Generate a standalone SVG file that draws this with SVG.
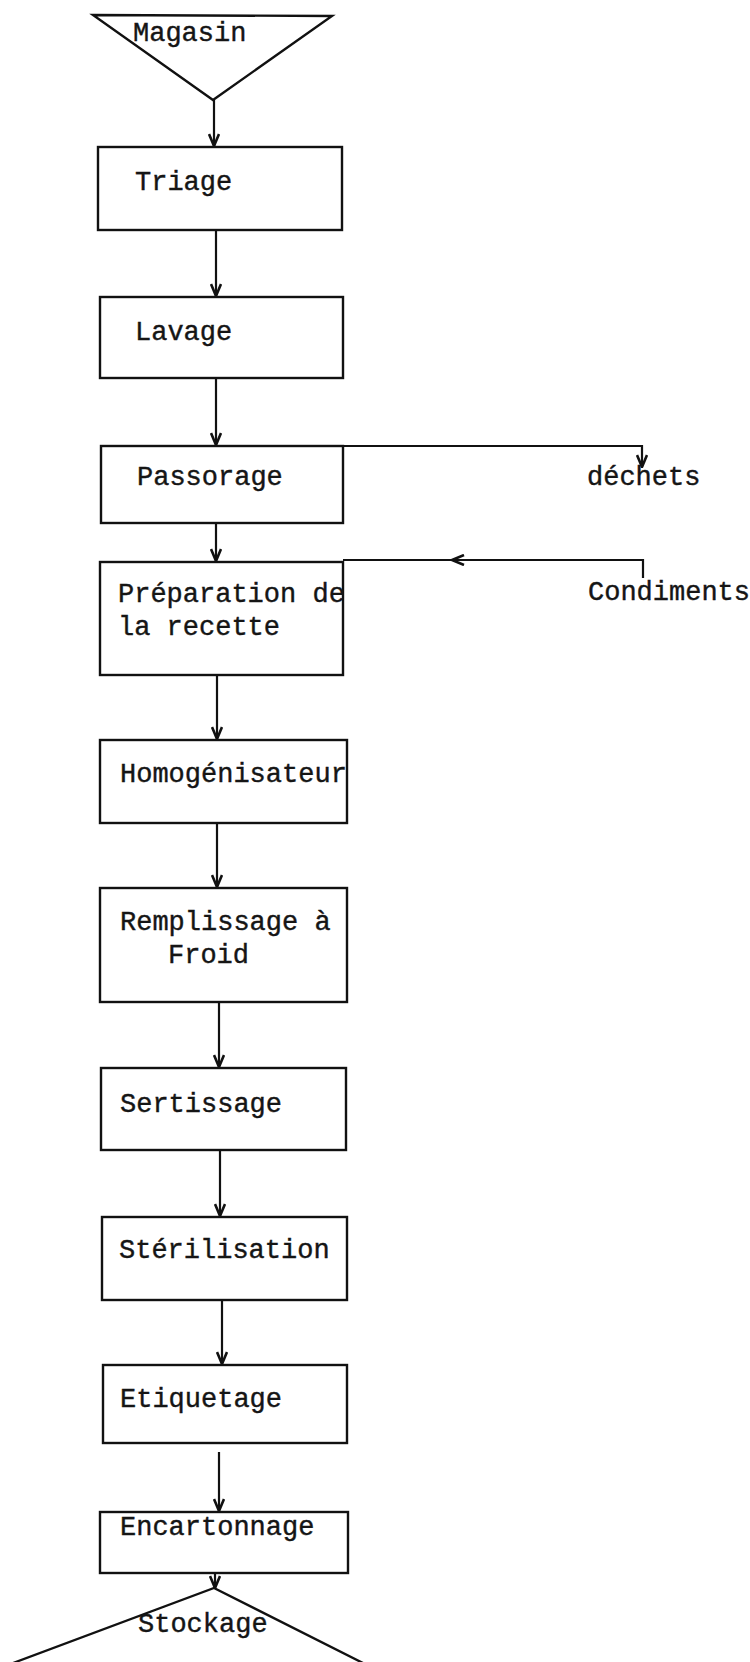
<svg xmlns="http://www.w3.org/2000/svg" width="750" height="1662" viewBox="0 0 750 1662">
<style>
.box{fill:none;stroke:#111;stroke-width:2.4}
.ln{fill:none;stroke:#111;stroke-width:2.2}
.t{font-family:"Liberation Mono","DejaVu Sans Mono",monospace;font-size:27px;fill:#151515;stroke:#151515;stroke-width:0.4}
</style>
<defs>
<marker id="ah" viewBox="0 0 14 12" refX="13" refY="6" markerWidth="14" markerHeight="12" markerUnits="userSpaceOnUse" orient="auto">
<path d="M1,1 L13,6 L1,11" fill="none" stroke="#111" stroke-width="2.6"/>
</marker>
</defs>
<rect width="750" height="1662" fill="#fff"/>
<g id="connectors">
<path class="ln" d="M214,100 V146" marker-end="url(#ah)"/>
<path class="ln" d="M216,231 V296" marker-end="url(#ah)"/>
<path class="ln" d="M216,379 V445" marker-end="url(#ah)"/>
<path class="ln" d="M216,524 V561" marker-end="url(#ah)"/>
<path class="ln" d="M217,676 V739" marker-end="url(#ah)"/>
<path class="ln" d="M217,824 V887" marker-end="url(#ah)"/>
<path class="ln" d="M219,1003 V1067" marker-end="url(#ah)"/>
<path class="ln" d="M220,1151 V1216" marker-end="url(#ah)"/>
<path class="ln" d="M222,1301 V1364" marker-end="url(#ah)"/>
<path class="ln" d="M219,1452 V1511" marker-end="url(#ah)"/>
<path class="ln" d="M215,1574 V1588" marker-end="url(#ah)"/>
<path class="ln" d="M343,446 H642 V467" marker-end="url(#ah)"/>
<path class="ln" d="M643,578 V560 H452" marker-end="url(#ah)"/>
<path class="ln" d="M452,560 H343"/>
</g>
<g id="magasin">
<polygon class="box" points="93,15 332,16 213,100"/>
<text class="t" x="133" y="41">Magasin</text>
</g>
<g id="triage">
<rect class="box" x="98" y="147" width="244" height="83"/>
<text class="t" x="135" y="190">Triage</text>
</g>
<g id="lavage">
<rect class="box" x="100" y="297" width="243" height="81"/>
<text class="t" x="135" y="340">Lavage</text>
</g>
<g id="passorage">
<rect class="box" x="101" y="446" width="242" height="77"/>
<text class="t" x="137" y="485">Passorage</text>
</g>
<g id="dechets">
<text class="t" x="587" y="485">déchets</text>
</g>
<g id="preparation">
<rect class="box" x="100" y="562" width="243" height="113"/>
<text class="t" x="118" y="602">Préparation de</text>
<text class="t" x="118" y="635">la recette</text>
</g>
<g id="condiments">
<text class="t" x="588" y="600">Condiments</text>
</g>
<g id="homogenisateur">
<rect class="box" x="100" y="740" width="247" height="83"/>
<text class="t" x="120" y="782">Homogénisateur</text>
</g>
<g id="remplissage">
<rect class="box" x="100" y="888" width="247" height="114"/>
<text class="t" x="120" y="930">Remplissage à</text>
<text class="t" x="168" y="963">Froid</text>
</g>
<g id="sertissage">
<rect class="box" x="101" y="1068" width="245" height="82"/>
<text class="t" x="120" y="1112">Sertissage</text>
</g>
<g id="sterilisation">
<rect class="box" x="102" y="1217" width="245" height="83"/>
<text class="t" x="119" y="1258">Stérilisation</text>
</g>
<g id="etiquetage">
<rect class="box" x="103" y="1365" width="244" height="78"/>
<text class="t" x="120" y="1407">Etiquetage</text>
</g>
<g id="encartonnage">
<rect class="box" x="100" y="1512" width="248" height="61"/>
<text class="t" x="120" y="1535">Encartonnage</text>
</g>
<g id="stockage">
<polyline class="box" points="13,1663 214,1588 363,1663"/>
<text class="t" x="138" y="1632">Stockage</text>
</g>
</svg>
